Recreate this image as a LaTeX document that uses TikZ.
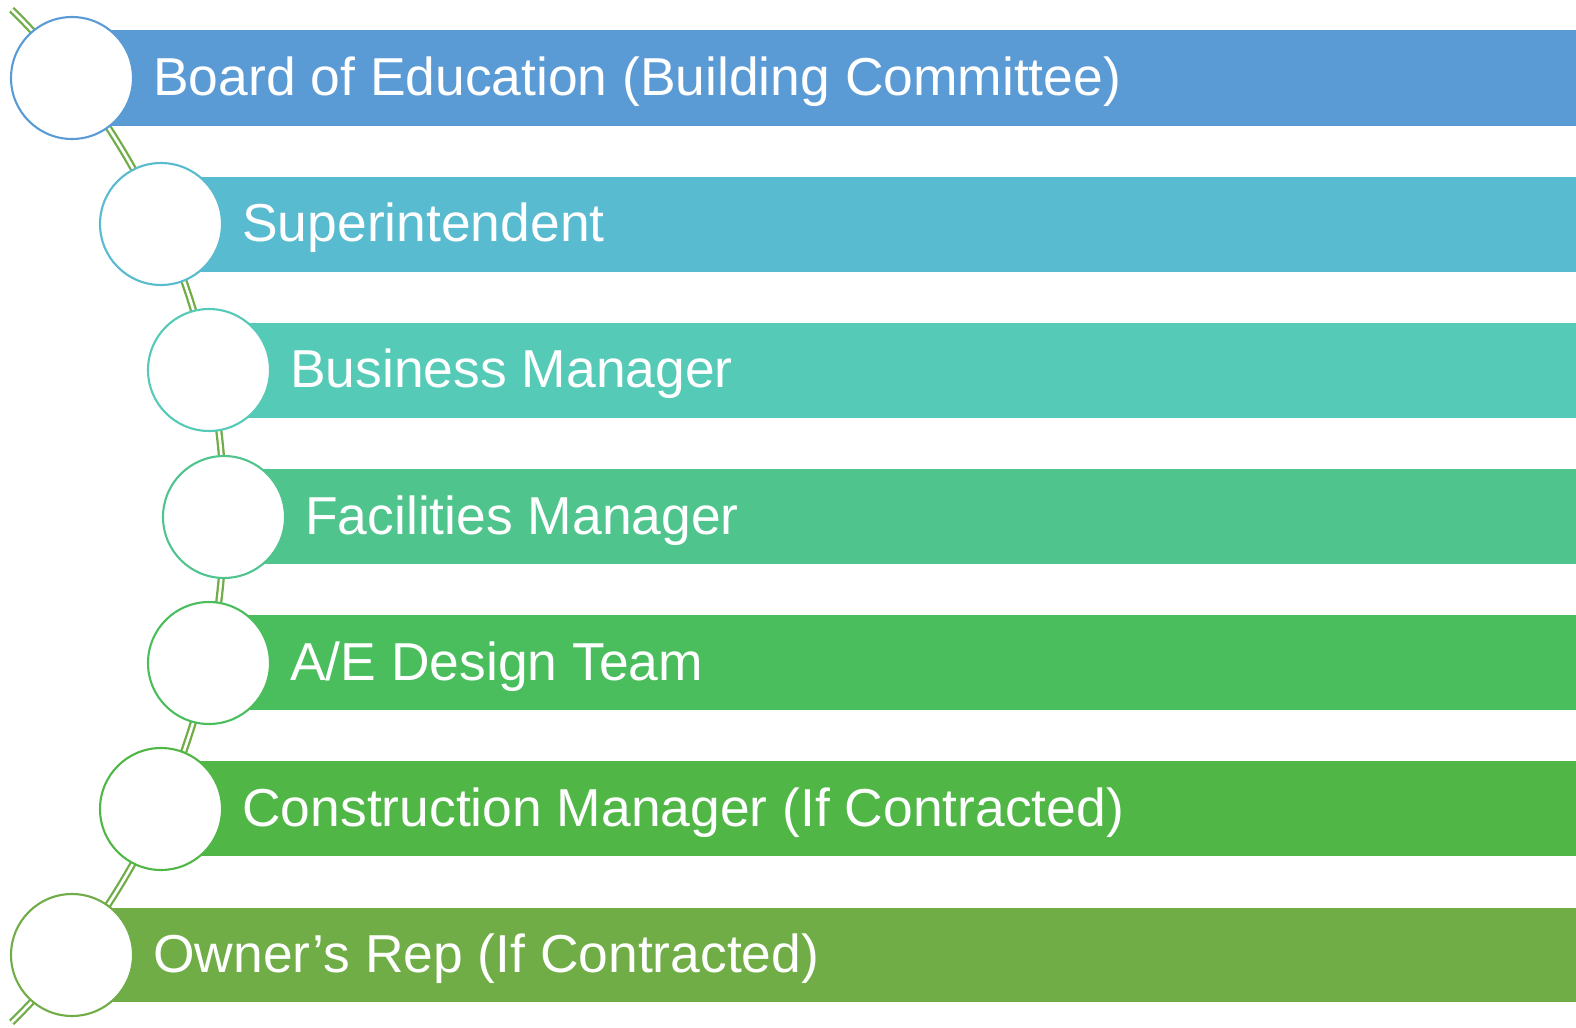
\documentclass[tikz,border=0pt]{standalone}
\usepackage{fontspec}
\setmainfont{Liberation Sans}
\usepackage{tikz}
\usetikzlibrary{calc}

\definecolor{barA}{HTML}{5B9BD5}
\definecolor{barB}{HTML}{58BBCF}
\definecolor{barC}{HTML}{54CAB7}
\definecolor{barD}{HTML}{4FC58D}
\definecolor{barE}{HTML}{4ABE5D}
\definecolor{barF}{HTML}{50B747}
\definecolor{barG}{HTML}{70AD47}

\tikzset{
	ring/.style={circle, draw=#1, fill=white, line width=1.2pt, minimum size=2.44cm, inner sep=0},
	bar/.style={fill=#1, draw=none},
	label/.style={anchor=base west, inner sep=0, text=white, font=\fontsize{30.4}{36}\selectfont},
	spine/.style={draw=barG, line width=1.3pt, double=white, double distance=1.5pt}
}

\begin{document}
\begin{tikzpicture}[x=0.02cm, y=-0.02cm]
		%%%%% START %%%%%
		
		\useasboundingbox (0, 0) rectangle (1576, 1028);
		
		% the arc behind the rings
		\draw[spine] ($(-486, 516)+({710*cos(-45.5)},{710*sin(-45.5)})$) arc (-45.5:45.5:710);
		
		% bars
		\fill[bar=barA] (72, 30) rectangle (1576, 126);
		\fill[bar=barB] (161, 177) rectangle (1576, 272);
		\fill[bar=barC] (209, 323) rectangle (1576, 418);
		\fill[bar=barD] (224, 469) rectangle (1576, 564);
		\fill[bar=barE] (209, 615) rectangle (1576, 710);
		\fill[bar=barF] (161, 761) rectangle (1576, 856);
		\fill[bar=barG] (72, 908) rectangle (1576, 1002);
		
		% rings
		\node[ring=barA] (board ring) at (72, 78) {};
		\node[ring=barB] (supt ring) at (161, 224) {};
		\node[ring=barC] (business ring) at (209, 370) {};
		\node[ring=barD] (facilities ring) at (224, 517) {};
		\node[ring=barE] (design ring) at (209, 663) {};
		\node[ring=barF] (cm ring) at (161, 809) {};
		\node[ring=barG] (owner ring) at (72, 955) {};
		
		% texts
		\node[label] (board) at (153, 95) {Board of Education (Building Committee)};
		\node[label] (supt) at (242, 241) {Superintendent};
		\node[label] (business) at (290, 387) {Business Manager};
		\node[label] (facilities) at (305, 534) {Facilities Manager};
		\node[label] (design) at (290, 680) {A/E Design Team};
		\node[label] (cm) at (242, 826) {Construction Manager (If Contracted)};
		\node[label] (owner) at (153, 972) {Owner’s Rep (If Contracted)};
		
		%%%%% END %%%%%
	\end{tikzpicture}
\end{document}
